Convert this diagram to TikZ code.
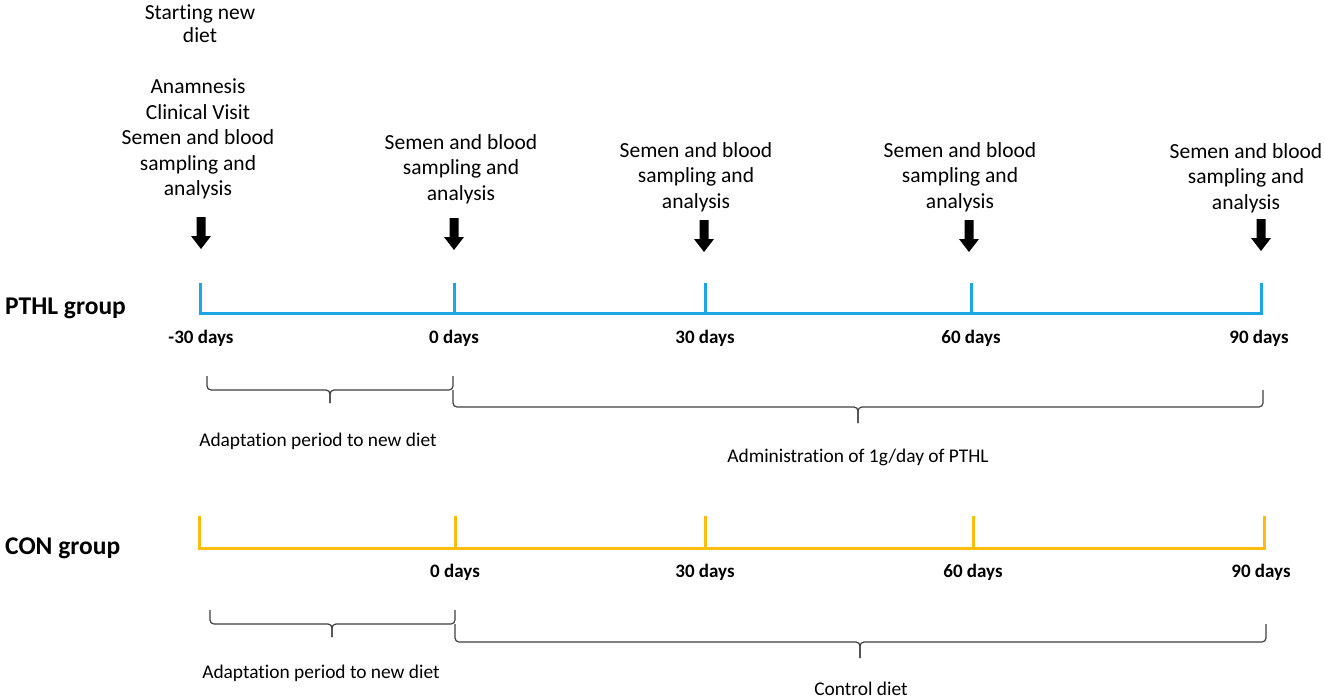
\documentclass[tikz,border=0pt]{standalone}
\usepackage{fontspec}
\setmainfont{Carlito}[Ligatures=NoCommon]
\newcommand{\nti}{t\kern0pt i}
\begin{document}
\begin{tikzpicture}[x=1pt,y=-1pt,
  note/.style={align=center,inner sep=0pt,font=\fontsize{21.5}{25.5}\selectfont},
  daylbl/.style={inner sep=0pt,font=\fontsize{19}{22}\selectfont\bfseries},
  grouplbl/.style={inner sep=0pt,anchor=west,font=\fontsize{25.5}{30}\selectfont\bfseries},
  bracelbl/.style={inner sep=0pt,font=\fontsize{19.4}{23}\selectfont},
  blueline/.style={draw=tlblue,line width=3pt},
  yelline/.style={draw=tlyellow,line width=3pt},
  bracepath/.style={draw=bracegray,line width=1.2pt,rounded corners=4pt},
  blockarrow/.style={fill=black,draw=none}]
\definecolor{tlblue}{HTML}{1BA6E6}
\definecolor{tlyellow}{HTML}{FDBD0F}
\definecolor{bracegray}{HTML}{404040}
\useasboundingbox (0,0) rectangle (1325,699);
\fill[white] (0,0) rectangle (1325,699);

% ---------------- top notes ----------------
\node[note,font=\fontsize{21.5}{23}\selectfont] (n0a) at (200,23.5) {Star\nti ng new\\diet};
\node[note] (n0b) at (198,139) {Anamnesis\\Clinical Visit\\Semen and blood\\sampling and\\analysis};
\node[note] (n1) at (461,169) {Semen and blood\\sampling and\\analysis};
\node[note] (n2) at (696,177) {Semen and blood\\sampling and\\analysis};
\node[note] (n3) at (960,177) {Semen and blood\\sampling and\\analysis};
\node[note] (n4) at (1246,178) {Semen and blood\\sampling and\\analysis};

% block arrows
\foreach \ax/\ay [count=\i] in {201/217, 454/218, 704/220, 969/220, 1261/219}{
  \fill[blockarrow] (\ax-4.5,\ay) -- (\ax+4.5,\ay) -- (\ax+4.5,\ay+19) -- (\ax+10,\ay+19)
     -- (\ax,\ay+32) -- (\ax-10,\ay+19) -- (\ax-4.5,\ay+19) -- cycle;
}

% ---------------- PTHL timeline ----------------
\node[grouplbl] (gp) at (5,308) {PTHL group};
\foreach \n/\tx in {a/200,b/454,c/705,d/971,e/1261}{
  \coordinate (p\n) at (\tx,313);
  \coordinate (pt\n) at (\tx,283);
}
\draw[blueline] ([xshift=-1.5pt]pa) -- ([xshift=1.5pt]pe);
\foreach \n in {a,b,c,d,e}{ \draw[blueline] (pt\n) -- (p\n); }

\node[daylbl] (pd1) at (201,338) {-30 days};
\node[daylbl] (pd2) at (454,338) {0 days};
\node[daylbl] (pd3) at (705,338) {30 days};
\node[daylbl] (pd4) at (971,338) {60 days};
\node[daylbl] (pd5) at (1259,338) {90 days};

% braces PTHL
\draw[bracepath] (207,376) -- (207,390) -- (330,390) -- (330,403);
\draw[bracepath] (330,403) -- (330,390) -- (453,390) -- (453,376);
\draw[bracepath] (453,390) -- (453,407) -- (858,407) -- (858,423);
\draw[bracepath] (858,423) -- (858,407) -- (1263,407) -- (1263,390);
\node[bracelbl] (bl1) at (318,441) {Adapta\nti on period to new diet};
\node[bracelbl] (bl2) at (858,457) {Administra\nti on of 1g/day of PTHL};

% ---------------- CON timeline ----------------
\node[grouplbl] (gc) at (5,548) {CON group};
\foreach \n/\tx in {a/199,b/455,c/705,d/973,e/1264}{
  \coordinate (c\n) at (\tx,548);
  \coordinate (ct\n) at (\tx,516);
}
\draw[yelline] ([xshift=-1.5pt]ca) -- ([xshift=1.5pt]ce);
\foreach \n in {a,b,c,d,e}{ \draw[yelline] (ct\n) -- (c\n); }

\node[daylbl] (cd2) at (455,572) {0 days};
\node[daylbl] (cd3) at (705,572) {30 days};
\node[daylbl] (cd4) at (973,572) {60 days};
\node[daylbl] (cd5) at (1261,572) {90 days};

% braces CON
\draw[bracepath] (210,610) -- (210,624) -- (332,624) -- (332,637);
\draw[bracepath] (332,637) -- (332,624) -- (455,624) -- (455,610);
\draw[bracepath] (455,624) -- (455,642) -- (860,642) -- (860,658);
\draw[bracepath] (860,658) -- (860,642) -- (1266,642) -- (1266,624);
\node[bracelbl] (bl3) at (321,673) {Adapta\nti on period to new diet};
\node[bracelbl] (bl4) at (861,689) {Control diet};
\end{tikzpicture}
\end{document}
